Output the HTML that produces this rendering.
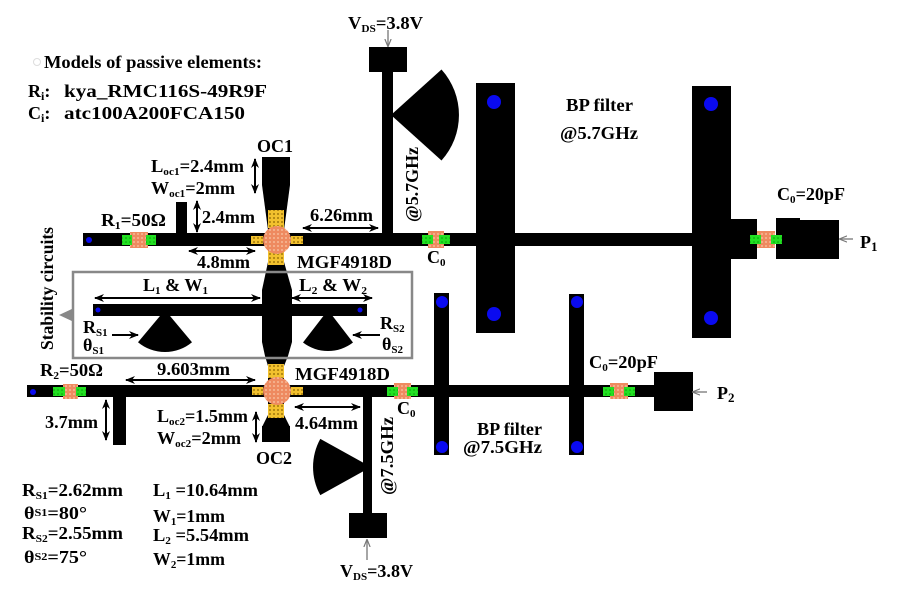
<!DOCTYPE html>
<html><head><meta charset="utf-8"><style>
html,body{margin:0;padding:0;background:#fff;}
svg{display:block;}
text{font-family:"Liberation Serif",serif;font-weight:bold;font-size:18px;fill:#000;}
</style></head><body>
<svg width="899" height="591" viewBox="0 0 899 591" xmlns="http://www.w3.org/2000/svg">
<defs>
<pattern id="yp" width="4" height="4" patternUnits="userSpaceOnUse"><rect width="4" height="4" fill="#f2c12e"/><circle cx="2" cy="2" r="0.9" fill="#8a6200"/></pattern>
<pattern id="op" width="4" height="4" patternUnits="userSpaceOnUse"><rect width="4" height="4" fill="#ee8a60"/><circle cx="2" cy="2" r="0.9" fill="#f9c9a9"/></pattern>
<pattern id="gp" width="4" height="4" patternUnits="userSpaceOnUse"><rect width="4" height="4" fill="#22e022"/><circle cx="2" cy="2" r="0.8" fill="#0a9a0a"/></pattern>
<marker id="ah" viewBox="0 0 10 10" refX="9" refY="5" markerWidth="5" markerHeight="5" orient="auto-start-reverse"><path d="M0,1 L10,5 L0,9 L3,5 Z" fill="#000"/></marker>
<marker id="gh" viewBox="0 0 10 10" refX="9" refY="5" markerWidth="6" markerHeight="6" orient="auto-start-reverse"><path d="M0,1 L10,5 L0,9" fill="none" stroke="#777" stroke-width="1.5"/></marker>
</defs>

<!-- ===== TOP BRANCH ===== -->
<rect x="369" y="47" width="38" height="25" fill="#000"/>
<rect x="382" y="70" width="11" height="170" fill="#000"/>
<path d="M391 115 L441.5 69.5 A68 68 0 0 1 441.5 160.5 Z" fill="#000"/>
<rect x="83" y="233" width="648" height="13" fill="#000"/>
<rect x="476" y="83" width="39" height="250" fill="#000"/>
<rect x="692" y="86" width="39" height="252" fill="#000"/>
<rect x="731" y="219" width="26" height="40" fill="#000"/>
<rect x="776" y="220" width="63" height="39" fill="#000"/>
<rect x="776" y="218" width="24" height="4" fill="#000"/>
<rect x="176" y="202" width="11" height="36" fill="#000"/>

<!-- OC1 and central column -->
<rect x="262" y="157" width="28" height="28" fill="#000"/>
<polygon points="262,185 290,185 284,230 268,230" fill="#000"/>
<rect x="268" y="228" width="16" height="40" fill="#000"/>
<path d="M268 262 L284 262 L288 276 L292 290 L292 342 L288 356 L284 366 L268 366 L265 356 L262 342 L262 290 L265 276 Z" fill="#000"/>

<!-- stability circuit -->
<rect x="93" y="304" width="274" height="12" fill="#000"/>
<path d="M165 310 L138 342.2 A42 42 0 0 0 192 342.2 Z" fill="#000"/>
<path d="M328 310 L303 342.5 A41 41 0 0 0 353 342.5 Z" fill="#000"/>
<rect x="73" y="272" width="339" height="86" fill="none" stroke="#888" stroke-width="2.5"/>
<polygon points="59,315 74,308 74,322" fill="#888"/>

<!-- ===== BOTTOM BRANCH ===== -->
<rect x="27" y="385" width="628" height="12" fill="#000"/>
<rect x="113" y="392" width="13" height="53" fill="#000"/>
<rect x="268" y="360" width="16" height="62" fill="#000"/>
<polygon points="268,415 284,415 290,427 262,427" fill="#000"/>
<rect x="262" y="426" width="28" height="16" fill="#000"/>
<rect x="363" y="392" width="9" height="122" fill="#000"/>
<rect x="349" y="513" width="38" height="25" fill="#000"/>
<path d="M371 467 L320.3 438.9 A58 58 0 0 0 320.3 495.1 Z" fill="#000"/>
<rect x="434" y="293" width="15" height="162" fill="#000"/>
<rect x="569" y="294" width="15" height="161" fill="#000"/>
<rect x="654" y="372" width="39" height="39" fill="#000"/>

<!-- blue vias -->
<g fill="#0a0af0">
<circle cx="494" cy="102" r="7"/><circle cx="494" cy="314" r="7"/>
<circle cx="711" cy="104" r="7"/><circle cx="711" cy="318" r="7"/>
<circle cx="442" cy="302" r="6"/><circle cx="442" cy="447" r="6"/>
<circle cx="577" cy="302" r="6"/><circle cx="577" cy="447" r="6"/>
<circle cx="89" cy="240" r="3"/>
<circle cx="98" cy="310" r="2.5"/><circle cx="360" cy="310" r="2.5"/>
<circle cx="33" cy="392" r="3"/>
</g>

<!-- resistors / capacitors -->
<rect x="130" y="232" width="18" height="16" fill="url(#op)"/>
<rect x="122" y="235" width="10" height="10" fill="url(#gp)"/>
<rect x="146" y="235" width="10" height="10" fill="url(#gp)"/>

<rect x="428" y="231" width="16" height="17" fill="url(#op)"/>
<rect x="422" y="235" width="11" height="9" fill="url(#gp)"/>
<rect x="439" y="235" width="11" height="9" fill="url(#gp)"/>

<rect x="757" y="231" width="18" height="17" fill="url(#op)"/>
<rect x="750" y="235" width="11" height="9" fill="url(#gp)"/>
<rect x="771" y="235" width="11" height="9" fill="url(#gp)"/>

<rect x="63" y="384" width="15" height="15" fill="url(#op)"/>
<rect x="53" y="387" width="12" height="9" fill="url(#gp)"/>
<rect x="76" y="387" width="10" height="9" fill="url(#gp)"/>

<rect x="394" y="383" width="17" height="16" fill="url(#op)"/>
<rect x="387" y="387" width="11" height="9" fill="url(#gp)"/>
<rect x="407" y="387" width="11" height="9" fill="url(#gp)"/>

<rect x="610" y="383" width="18" height="16" fill="url(#op)"/>
<rect x="603" y="387" width="11" height="9" fill="url(#gp)"/>
<rect x="624" y="387" width="11" height="9" fill="url(#gp)"/>

<!-- transistors -->
<rect x="268" y="210" width="16" height="18" fill="url(#yp)"/>
<rect x="268" y="251" width="16" height="14" fill="url(#yp)"/>
<rect x="251" y="236" width="12" height="8" fill="url(#yp)"/>
<rect x="291" y="236" width="12" height="8" fill="url(#yp)"/>
<circle cx="277" cy="240" r="14" fill="url(#op)"/>

<rect x="268" y="364" width="16" height="14" fill="url(#yp)"/>
<rect x="268" y="404" width="16" height="14" fill="url(#yp)"/>
<rect x="252" y="387" width="11" height="8" fill="url(#yp)"/>
<rect x="291" y="387" width="12" height="8" fill="url(#yp)"/>
<circle cx="277" cy="391" r="14" fill="url(#op)"/>

<!-- dimension arrows -->
<g stroke="#000" stroke-width="2" fill="none" marker-start="url(#ah)" marker-end="url(#ah)">
<line x1="255" y1="159" x2="255" y2="193"/>
<line x1="197" y1="201" x2="197" y2="232"/>
<line x1="303" y1="228" x2="378" y2="228"/>
<line x1="189" y1="251" x2="255" y2="251"/>
<line x1="95" y1="298" x2="260" y2="298"/>
<line x1="292" y1="298" x2="372" y2="298"/>
<line x1="126" y1="380" x2="255" y2="380"/>
<line x1="106" y1="400" x2="106" y2="440"/>
<line x1="256" y1="412" x2="256" y2="442"/>
<line x1="295" y1="407" x2="360" y2="407"/>
</g>
<g stroke="#000" stroke-width="2" fill="none" marker-end="url(#ah)">
<line x1="112" y1="335" x2="138" y2="335"/>
<line x1="380" y1="335" x2="353" y2="335"/>
</g>
<g stroke="#777" stroke-width="1.3" fill="none" marker-end="url(#gh)">
<line x1="388" y1="30" x2="388" y2="46"/>
<line x1="367" y1="560" x2="367" y2="540"/>
<line x1="853" y1="239" x2="840" y2="239"/>
<line x1="707" y1="392" x2="693" y2="392"/>
</g>

<!-- ===== TEXT ===== -->
<circle cx="37" cy="62" r="3.5" fill="none" stroke="#ddd" stroke-width="1"/>
<text x="44" y="68" textLength="218" lengthAdjust="spacingAndGlyphs">Models of passive elements:</text>
<text x="28" y="97" font-size="20">R<tspan font-size="12" dy="3">i</tspan><tspan dy="-3">:</tspan></text>
<text x="64" y="97" font-size="20" textLength="203" lengthAdjust="spacingAndGlyphs">kya_RMC116S-49R9F</text>
<text x="28" y="119" font-size="20">C<tspan font-size="12" dy="3">i</tspan><tspan dy="-3">:</tspan></text>
<text x="64" y="119" font-size="20" textLength="181" lengthAdjust="spacingAndGlyphs">atc100A200FCA150</text>

<text x="348" y="29" textLength="75" lengthAdjust="spacingAndGlyphs">V<tspan font-size="11" dy="3">DS</tspan><tspan dy="-3">=3.8V</tspan></text>
<text x="257" y="152" textLength="36" lengthAdjust="spacingAndGlyphs">OC1</text>
<text x="151" y="172" textLength="93" lengthAdjust="spacingAndGlyphs">L<tspan font-size="11" dy="3">oc1</tspan><tspan dy="-3">=2.4mm</tspan></text>
<text x="151" y="194" textLength="84" lengthAdjust="spacingAndGlyphs">W<tspan font-size="11" dy="3">oc1</tspan><tspan dy="-3">=2mm</tspan></text>
<text x="101" y="226" textLength="65" lengthAdjust="spacingAndGlyphs">R<tspan font-size="11" dy="3">1</tspan><tspan dy="-3">=50Ω</tspan></text>
<text x="202" y="223" textLength="53" lengthAdjust="spacingAndGlyphs">2.4mm</text>
<text x="310" y="221" textLength="63" lengthAdjust="spacingAndGlyphs">6.26mm</text>
<text x="197" y="268" textLength="53" lengthAdjust="spacingAndGlyphs">4.8mm</text>
<text x="297" y="268" textLength="95" lengthAdjust="spacingAndGlyphs">MGF4918D</text>
<text x="427" y="263">C<tspan font-size="11" dy="3">0</tspan></text>
<text transform="translate(418,222) rotate(-90)" textLength="75" lengthAdjust="spacingAndGlyphs">@5.7GHz</text>
<text x="566" y="111" textLength="67" lengthAdjust="spacingAndGlyphs">BP filter</text>
<text x="560" y="139" textLength="78" lengthAdjust="spacingAndGlyphs">@5.7GHz</text>
<text x="777" y="200" textLength="68" lengthAdjust="spacingAndGlyphs">C<tspan font-size="11" dy="3">0</tspan><tspan dy="-3">=20pF</tspan></text>
<text x="860" y="248" font-size="22">P<tspan font-size="13" dy="3">1</tspan></text>

<text transform="translate(53,350) rotate(-90)" font-size="17" textLength="123" lengthAdjust="spacingAndGlyphs">Stability circuits</text>
<text x="143" y="291" textLength="65" lengthAdjust="spacingAndGlyphs">L<tspan font-size="11" dy="3">1</tspan><tspan dy="-3"> &amp; W</tspan><tspan font-size="11" dy="3">1</tspan></text>
<text x="299" y="291" textLength="68" lengthAdjust="spacingAndGlyphs">L<tspan font-size="11" dy="3">2</tspan><tspan dy="-3"> &amp; W</tspan><tspan font-size="11" dy="3">2</tspan></text>
<text x="83" y="333">R<tspan font-size="11" dy="3">S1</tspan></text>
<text x="83" y="351">θ<tspan font-size="11" dy="3">S1</tspan></text>
<text x="380" y="329">R<tspan font-size="11" dy="3">S2</tspan></text>
<text x="382" y="350">θ<tspan font-size="11" dy="3">S2</tspan></text>

<text x="40" y="376" textLength="63" lengthAdjust="spacingAndGlyphs">R<tspan font-size="11" dy="3">2</tspan><tspan dy="-3">=50Ω</tspan></text>
<text x="157" y="375" textLength="73" lengthAdjust="spacingAndGlyphs">9.603mm</text>
<text x="295" y="380" textLength="95" lengthAdjust="spacingAndGlyphs">MGF4918D</text>
<text x="45" y="428" textLength="53" lengthAdjust="spacingAndGlyphs">3.7mm</text>
<text x="157" y="422" textLength="91" lengthAdjust="spacingAndGlyphs">L<tspan font-size="11" dy="3">oc2</tspan><tspan dy="-3">=1.5mm</tspan></text>
<text x="157" y="444" textLength="84" lengthAdjust="spacingAndGlyphs">W<tspan font-size="11" dy="3">oc2</tspan><tspan dy="-3">=2mm</tspan></text>
<text x="295" y="429" textLength="63" lengthAdjust="spacingAndGlyphs">4.64mm</text>
<text x="397" y="414">C<tspan font-size="11" dy="3">0</tspan></text>
<text x="256" y="464" textLength="36" lengthAdjust="spacingAndGlyphs">OC2</text>
<text transform="translate(393,495) rotate(-90)" textLength="78" lengthAdjust="spacingAndGlyphs">@7.5GHz</text>
<text x="477" y="435" textLength="65" lengthAdjust="spacingAndGlyphs">BP filter</text>
<text x="463" y="453" textLength="79" lengthAdjust="spacingAndGlyphs">@7.5GHz</text>
<text x="589" y="368" textLength="69" lengthAdjust="spacingAndGlyphs">C<tspan font-size="11" dy="3">0</tspan><tspan dy="-3">=20pF</tspan></text>
<text x="717" y="399" font-size="22">P<tspan font-size="13" dy="3">2</tspan></text>
<text x="340" y="577" textLength="73" lengthAdjust="spacingAndGlyphs">V<tspan font-size="11" dy="3">DS</tspan><tspan dy="-3">=3.8V</tspan></text>

<text x="22" y="496" textLength="101" lengthAdjust="spacingAndGlyphs">R<tspan font-size="11" dy="3">S1</tspan><tspan dy="-3">=2.62mm</tspan></text>
<text x="24" y="519" textLength="63" lengthAdjust="spacingAndGlyphs">θ<tspan font-size="11" dy="-3">S1</tspan><tspan dy="3">=80°</tspan></text>
<text x="22" y="539" textLength="101" lengthAdjust="spacingAndGlyphs">R<tspan font-size="11" dy="3">S2</tspan><tspan dy="-3">=2.55mm</tspan></text>
<text x="24" y="563" textLength="63" lengthAdjust="spacingAndGlyphs">θ<tspan font-size="11" dy="-3">S2</tspan><tspan dy="3">=75°</tspan></text>
<text x="153" y="496" textLength="105" lengthAdjust="spacingAndGlyphs">L<tspan font-size="11" dy="3">1</tspan><tspan dy="-3"> =10.64mm</tspan></text>
<text x="153" y="522" textLength="72" lengthAdjust="spacingAndGlyphs">W<tspan font-size="11" dy="3">1</tspan><tspan dy="-3">=1mm</tspan></text>
<text x="153" y="541" textLength="96" lengthAdjust="spacingAndGlyphs">L<tspan font-size="11" dy="3">2</tspan><tspan dy="-3"> =5.54mm</tspan></text>
<text x="153" y="565" textLength="72" lengthAdjust="spacingAndGlyphs">W<tspan font-size="11" dy="3">2</tspan><tspan dy="-3">=1mm</tspan></text>
</svg>
</body></html>
